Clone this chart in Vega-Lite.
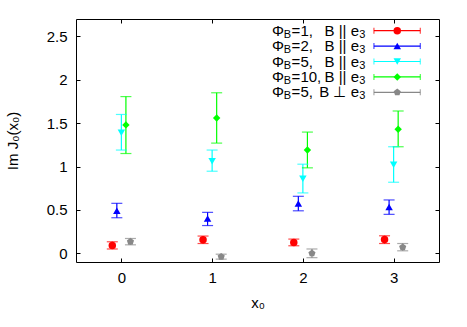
{
  "$schema": "https://vega.github.io/schema/vega-lite/v6.json",
  "autosize": "none",
  "width": 363,
  "height": 243,
  "padding": {"left": 76, "top": 19, "right": 28, "bottom": 65},
  "background": "white",
  "config": {
    "view": {"stroke": "black", "strokeWidth": 1},
    "font": "Liberation Sans",
    "axis": {
      "labelFont": "Liberation Sans",
      "titleFont": "Liberation Sans",
      "labelFontSize": 15,
      "titleFontSize": 15,
      "titleFontWeight": "normal",
      "labelColor": "black",
      "titleColor": "black",
      "tickColor": "black",
      "domain": false,
      "grid": false
    }
  },
  "datasets": {
    "pts": [
      {"s": "a", "x": -0.1, "y": 0.09, "lo": 0.05, "hi": 0.133},
      {"s": "a", "x": 0.9, "y": 0.156, "lo": 0.113, "hi": 0.199},
      {"s": "a", "x": 1.9, "y": 0.125, "lo": 0.087, "hi": 0.164},
      {"s": "a", "x": 2.9, "y": 0.16, "lo": 0.113, "hi": 0.202},
      {"s": "b", "x": -0.05, "y": 0.49, "lo": 0.41, "hi": 0.576},
      {"s": "b", "x": 0.95, "y": 0.4, "lo": 0.32, "hi": 0.472},
      {"s": "b", "x": 1.95, "y": 0.575, "lo": 0.49, "hi": 0.657},
      {"s": "b", "x": 2.95, "y": 0.535, "lo": 0.449, "hi": 0.615},
      {"s": "c", "x": 0, "y": 1.39, "lo": 1.19, "hi": 1.6},
      {"s": "c", "x": 1, "y": 1.06, "lo": 0.946, "hi": 1.19},
      {"s": "c", "x": 2, "y": 0.86, "lo": 0.696, "hi": 1.027},
      {"s": "c", "x": 3, "y": 1.02, "lo": 0.819, "hi": 1.228},
      {"s": "d", "x": 0.05, "y": 1.48, "lo": 1.15, "hi": 1.806},
      {"s": "d", "x": 1.05, "y": 1.56, "lo": 1.27, "hi": 1.85},
      {"s": "d", "x": 2.05, "y": 1.19, "lo": 0.985, "hi": 1.397},
      {"s": "d", "x": 3.05, "y": 1.43, "lo": 1.228, "hi": 1.64},
      {"s": "e", "x": 0.1, "y": 0.135, "lo": 0.098, "hi": 0.171},
      {"s": "e", "x": 1.1, "y": -0.038, "lo": -0.067, "hi": -0.01},
      {"s": "e", "x": 2.1, "y": 0.0, "lo": -0.05, "hi": 0.05},
      {"s": "e", "x": 3.1, "y": 0.07, "lo": 0.029, "hi": 0.113}
    ],
    "leg": [
      {"s": "a", "n": "=1,", "r": "B || e"},
      {"s": "b", "n": "=2,", "r": "B || e"},
      {"s": "c", "n": "=5,", "r": "B || e"},
      {"s": "d", "n": "=10,", "r": "B || e"},
      {"s": "e", "n": "=5,", "r": "B ⊥ e"}
    ]
  },
  "layer": [
    {
      "data": {"name": "pts"},
      "resolve": {"axis": {"x": "independent", "y": "independent"}},
      "layer": [
        {
          "mark": {"type": "rule", "strokeWidth": 1.2},
          "encoding": {
            "x": {"field": "x", "type": "quantitative", "scale": {"domain": [-0.5, 3.5], "nice": false, "zero": false},
                  "axis": {"orient": "bottom", "values": [0, 1, 2, 3], "format": "d", "title": "x₀", "tickSize": -4, "labelPadding": 12, "titlePadding": 10}},
            "y": {"field": "lo", "type": "quantitative", "scale": {"domain": [-0.1, 2.7], "nice": false, "zero": false},
                  "axis": {"orient": "left", "values": [0, 0.5, 1, 1.5, 2, 2.5], "format": "~g", "title": "Im J₀(x₀)", "tickSize": -4, "labelPadding": 13, "titlePadding": 26}},
            "y2": {"field": "hi"},
            "color": {"field": "s", "type": "nominal", "legend": null,
                      "scale": {"domain": ["a", "b", "c", "d", "e"], "range": ["#ff0000", "#0000ff", "#00ffff", "#00ff00", "#888888"]}}
          }
        },
        {
          "mark": {"type": "tick", "orient": "horizontal", "size": 11, "thickness": 1.2},
          "encoding": {
            "x": {"field": "x", "type": "quantitative",
                  "axis": {"orient": "top", "values": [0, 1, 2, 3], "labels": false, "title": null, "tickSize": -4}},
            "y": {"field": "lo", "type": "quantitative",
                  "axis": {"orient": "right", "values": [0, 0.5, 1, 1.5, 2, 2.5], "labels": false, "title": null, "tickSize": -4}},
            "color": {"field": "s", "type": "nominal", "legend": null}
          }
        },
        {
          "mark": {"type": "tick", "orient": "horizontal", "size": 11, "thickness": 1.2},
          "encoding": {
            "x": {"field": "x", "type": "quantitative", "axis": null},
            "y": {"field": "hi", "type": "quantitative", "axis": null},
            "color": {"field": "s", "type": "nominal", "legend": null}
          }
        },
        {
          "mark": {"type": "point", "filled": true, "size": 56, "opacity": 1},
          "encoding": {
            "x": {"field": "x", "type": "quantitative", "axis": null},
            "y": {"field": "y", "type": "quantitative", "axis": null},
            "color": {"field": "s", "type": "nominal", "legend": null},
            "shape": {"field": "s", "type": "nominal", "legend": null,
                      "scale": {"domain": ["a", "b", "c", "d", "e"],
                                "range": ["circle", "triangle-up", "triangle-down", "diamond", "M0,-1L0.951,-0.309L0.588,0.809L-0.588,0.809L-0.951,-0.309Z"]}}
          }
        }
      ]
    },
    {
      "data": {"name": "leg"},
      "layer": [
        {
          "mark": {"type": "text", "text": "Φ", "align": "left", "baseline": "middle", "fontSize": 15, "font": "Liberation Sans", "color": "black"},
          "encoding": {
            "x": {"datum": 1.66, "type": "quantitative", "axis": null},
            "y": {"field": "s", "type": "ordinal", "axis": null, "scale": {"type": "point", "domain": ["a", "b", "c", "d", "e"], "range": [11.7, 73.3], "padding": 0}}
          }
        },
        {
          "mark": {"type": "text", "text": "B", "align": "left", "baseline": "middle", "fontSize": 11, "dx": 11.8, "dy": 4, "font": "Liberation Sans", "color": "black"},
          "encoding": {
            "x": {"datum": 1.66, "type": "quantitative", "axis": null},
            "y": {"field": "s", "type": "ordinal", "axis": null}
          }
        },
        {
          "mark": {"type": "text", "align": "left", "baseline": "middle", "fontSize": 15, "dx": 19.6, "font": "Liberation Sans", "color": "black"},
          "encoding": {
            "x": {"datum": 1.66, "type": "quantitative", "axis": null},
            "y": {"field": "s", "type": "ordinal", "axis": null},
            "text": {"field": "n"}
          }
        },
        {
          "mark": {"type": "text", "align": "right", "baseline": "middle", "fontSize": 15, "dx": -6.5, "font": "Liberation Sans", "color": "black"},
          "encoding": {
            "x": {"datum": 2.69, "type": "quantitative", "axis": null},
            "y": {"field": "s", "type": "ordinal", "axis": null},
            "text": {"field": "r"}
          }
        },
        {
          "mark": {"type": "text", "text": "3", "align": "right", "baseline": "middle", "fontSize": 11, "dy": 4, "font": "Liberation Sans", "color": "black"},
          "encoding": {
            "x": {"datum": 2.69, "type": "quantitative", "axis": null},
            "y": {"field": "s", "type": "ordinal", "axis": null}
          }
        },
        {
          "mark": {"type": "rule", "strokeWidth": 1.2},
          "encoding": {
            "x": {"datum": 2.783, "type": "quantitative", "axis": null},
            "x2": {"datum": 3.294},
            "y": {"field": "s", "type": "ordinal", "axis": null},
            "color": {"field": "s", "type": "nominal", "legend": null}
          }
        },
        {
          "mark": {"type": "tick", "orient": "vertical", "size": 6, "thickness": 1.2},
          "encoding": {
            "x": {"datum": 2.783, "type": "quantitative", "axis": null},
            "y": {"field": "s", "type": "ordinal", "axis": null},
            "color": {"field": "s", "type": "nominal", "legend": null}
          }
        },
        {
          "mark": {"type": "tick", "orient": "vertical", "size": 6, "thickness": 1.2},
          "encoding": {
            "x": {"datum": 3.294, "type": "quantitative", "axis": null},
            "y": {"field": "s", "type": "ordinal", "axis": null},
            "color": {"field": "s", "type": "nominal", "legend": null}
          }
        },
        {
          "mark": {"type": "point", "filled": true, "size": 56, "opacity": 1},
          "encoding": {
            "x": {"datum": 3.04, "type": "quantitative", "axis": null},
            "y": {"field": "s", "type": "ordinal", "axis": null},
            "color": {"field": "s", "type": "nominal", "legend": null},
            "shape": {"field": "s", "type": "nominal", "legend": null}
          }
        }
      ]
    }
  ],
  "resolve": {"scale": {"y": "independent"}, "axis": {"x": "independent"}}
}
